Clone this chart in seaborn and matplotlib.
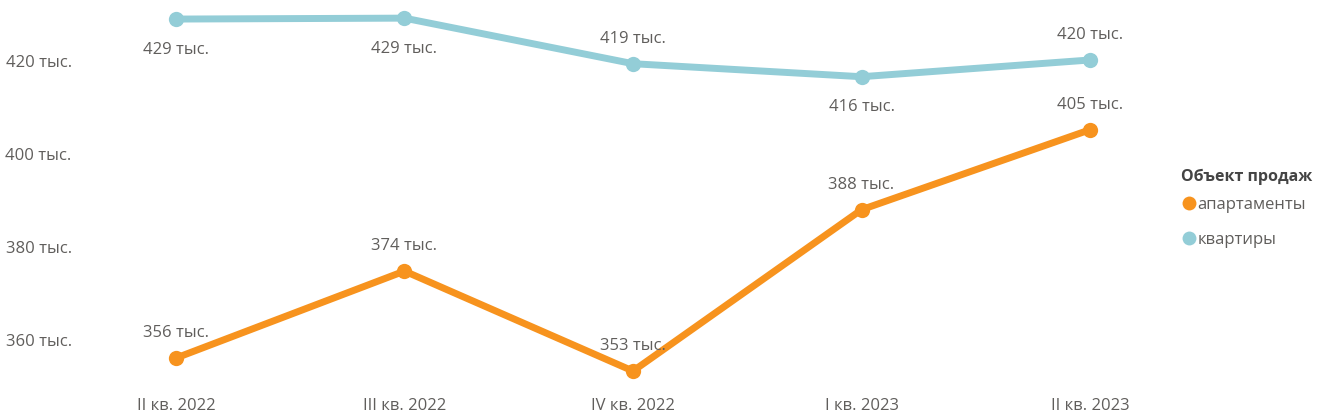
import matplotlib
matplotlib.use("Agg")
import matplotlib.pyplot as plt
import seaborn as sns
import pandas as pd
from matplotlib.lines import Line2D

quarters = ["II кв. 2022", "III кв. 2022", "IV кв. 2022", "I кв. 2023", "II кв. 2023"]
apartments = [356.1, 374.8, 353.3, 388.0, 405.2]
flats = [429.0, 429.2, 419.4, 416.6, 420.2]
apartments_labels = ["356 тыс.", "374 тыс.", "353 тыс.", "388 тыс.", "405 тыс."]
flats_labels = ["429 тыс.", "429 тыс.", "419 тыс.", "416 тыс.", "420 тыс."]
series_names = ["апартаменты", "квартиры"]
y_ticks = [360, 380, 400, 420]
y_tick_labels = ["360 тыс.", "380 тыс.", "400 тыс.", "420 тыс."]
legend_title = "Объект продаж"

sns.set_theme(style="white")
plt.rcParams["font.family"] = ["Open Sans", "DejaVu Sans"]

TXT = "#605E5C"
FS = 12
colors = {"апартаменты": "#F7931E", "квартиры": "#93CDD7"}

df = pd.DataFrame({
    "quarter": quarters * 2,
    "value": apartments + flats,
    "series": [series_names[0]] * len(quarters) + [series_names[1]] * len(quarters),
})
df["x"] = list(range(len(quarters))) * 2

W, H = 1319, 416
fig = plt.figure(figsize=(W / 100, H / 100), dpi=100)
ax = fig.add_axes([80 / W, (H - 385) / H, (1170 - 80) / W, 385 / H])

sns.lineplot(data=df, x="x", y="value", hue="series", palette=colors,
             marker="o", markersize=11, markeredgewidth=0, linewidth=5,
             legend=False, ax=ax, sort=False)

ax.set_xlim(-0.42, 4.35)
ax.set_ylim(350.3, 433.1)
ax.set_xticks(range(len(quarters)))
ax.set_xticklabels(quarters)
ax.set_yticks(y_ticks)
ax.set_yticklabels(y_tick_labels)
ax.tick_params(axis="both", length=0, labelsize=FS, labelcolor=TXT)
ax.tick_params(axis="x", pad=9)
ax.tick_params(axis="y", pad=6)
ax.set_xlabel("")
ax.set_ylabel("")
for s in ax.spines.values():
    s.set_visible(False)

flat_pos = ["below", "below", "above", "below", "above"]
for i, (v, t) in enumerate(zip(apartments, apartments_labels)):
    ax.annotate(t, (i, v), xytext=(0, 18), textcoords="offset points",
                ha="center", va="center", fontsize=FS, color=TXT)
for i, (v, t) in enumerate(zip(flats, flats_labels)):
    dy = 18 if flat_pos[i] == "above" else -22
    ax.annotate(t, (i, v), xytext=(0, dy), textcoords="offset points",
                ha="center", va="center", fontsize=FS, color=TXT)

fig.text(1181 / W, 1 - 177 / H, legend_title, fontsize=11.5, fontweight="bold",
         color="#444444", ha="left", va="center")
handles = [Line2D([], [], marker="o", linestyle="", markersize=10,
                  markerfacecolor=colors[n], markeredgewidth=0) for n in series_names]
leg = fig.legend(handles, series_names,
                 loc="center left", bbox_to_anchor=(1171 / W, 1 - 222.5 / H),
                 frameon=False, fontsize=FS,
                 handletextpad=0.0, labelspacing=1.15, borderpad=0, handlelength=1.1)
for t in leg.get_texts():
    t.set_color(TXT)

fig.savefig("out.png", dpi=100)
